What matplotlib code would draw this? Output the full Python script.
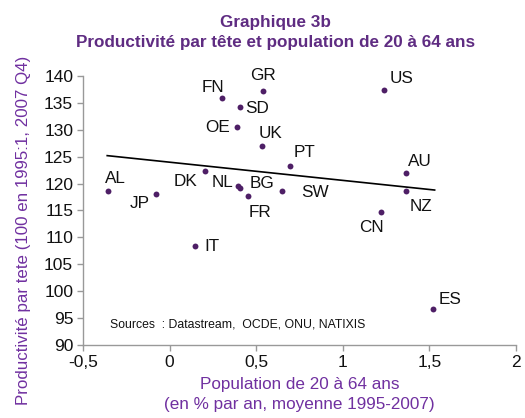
import matplotlib
matplotlib.use("Agg")
import matplotlib.pyplot as plt
import numpy as np

countries = ["AL", "JP", "DK", "IT", "NL", "BG", "FR", "SW", "PT", "UK",
             "AU", "NZ", "CN", "ES", "FN", "GR", "SD", "OE", "US"]
pop_growth = [-0.356, -0.08, 0.204, 0.147, 0.395, 0.406, 0.451, 0.651, 0.697, 0.535,
              1.363, 1.363, 1.219, 1.522, 0.304, 0.539, 0.406, 0.389, 1.240]
productivity = [118.6, 118.0, 122.3, 108.3, 119.6, 119.2, 117.7, 118.6, 123.2, 126.9,
                122.0, 118.6, 114.7, 96.6, 136.0, 137.3, 134.2, 130.5, 137.5]
# label offsets in pixels (dx right, dy up)
label_dx = [8, -16, -19, 17, -16, 22, 12, 33, 14, 8, 14, 15, -9, 17, -9, 0, 17, -19, 17]
label_dy = [13, -9, -10, 0, 3, 4, -17, -1, 14, 13, 11, -15, -15, 10, 10, 15, -1, 0, 11]

trend_x = [-0.36, 1.53]
trend_y = [125.2, 118.8]

xticks = [-0.5, 0, 0.5, 1, 1.5, 2]
xticklabels = ["-0,5", "0", "0,5", "1", "1,5", "2"]
yticks = list(range(90, 141, 5))

title_color = "#5F2C82"
point_color = "#4E1F66"
label_color = "#7030A0"

plt.rcParams['font.family'] = ['Liberation Sans', 'DejaVu Sans']

fig = plt.figure(figsize=(5.25, 4.18), dpi=100)
ax = fig.add_axes([0.158, 0.175, 0.825, 0.643])

ax.plot(trend_x, trend_y, color="black", lw=1.2, zorder=2)
ax.scatter(pop_growth, productivity, s=18, color=point_color, zorder=3, linewidths=0)

for c, x, y, dx, dy in zip(countries, pop_growth, productivity, label_dx, label_dy):
    ax.annotate(c, (x, y), xytext=(dx, dy), textcoords="offset pixels",
                ha="center", va="center", fontsize=12.3, color="#111111")

ax.set_xlim(-0.5, 2)
ax.set_ylim(90, 140)
ax.set_xticks(xticks)
ax.set_xticklabels(xticklabels)
ax.set_yticks(yticks)
ax.tick_params(axis="both", labelsize=12.5, color="#999999", length=4, width=1,
               direction="out", labelcolor="#111111")
ax.tick_params(axis="y", pad=3)
ax.tick_params(axis="x", pad=3)
for s in ["top", "right"]:
    ax.spines[s].set_visible(False)
for s in ["left", "bottom"]:
    ax.spines[s].set_color("#999999")
    ax.spines[s].set_linewidth(1)

ax.text(0.062, 0.075, "Sources  : Datastream,  OCDE, ONU, NATIXIS", transform=ax.transAxes,
        fontsize=8.8, color="#111111", va="center", ha="left")

fig.text(0.571, 1 - 385 / 418, "Population de 20 à 64 ans", ha="center", va="center",
         fontsize=12.3, color=label_color)
fig.text(0.571, 1 - 405 / 418, "(en % par an, moyenne 1995-2007)", ha="center", va="center",
         fontsize=12.3, color=label_color)
fig.text(24 / 525, 1 - 230 / 418, "Productivité par tete (100 en 1995:1, 2007 Q4)",
         rotation=90, ha="center", va="center", fontsize=12.2, color=label_color)

fig.text(0.524, 1 - 23 / 418, "Graphique 3b", ha="center", va="center",
         fontsize=12.3, fontweight="bold", color=title_color)
fig.text(0.524, 1 - 43 / 418, "Productivité par tête et population de 20 à 64 ans", ha="center",
         va="center", fontsize=12.3, fontweight="bold", color=title_color)

fig.savefig("out.png", dpi=100)
